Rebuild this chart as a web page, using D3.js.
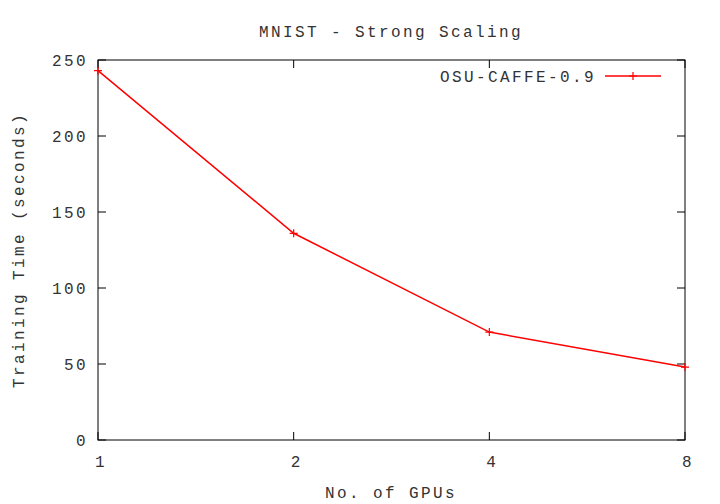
<!DOCTYPE html>
<html><head><meta charset="utf-8">
<script src="https://cdn.jsdelivr.net/npm/d3@7"></script>
<style>body{margin:0;background:#fff}text{font-family:"Liberation Mono",monospace;font-size:16px;letter-spacing:2.4px;fill:#333}</style>
</head><body><div id="c"></div>
<script>
var gpus = [1, 2, 4, 8]
var times = [243, 136, 71, 48]
var yTicks = [0, 50, 100, 150, 200, 250]
var seriesName = "OSU-CAFFE-0.9"

var wd = 720, ht = 504
var pl = 98, pr = 685, pt = 60, pb = 440

var svg = d3.select("#c").append("svg").attr("width", wd).attr("height", ht)

var x = d3.scaleLog().base(2).domain([1, 8]).range([pl, pr])
var y = d3.scaleLinear().domain([0, 250]).range([pb, pt])

// ticks, inward on all four sides
var tl = 8
yTicks.forEach(function(t) {
  svg.append("line").attr("x1", pl).attr("x2", pl + tl).attr("y1", y(t)).attr("y2", y(t)).attr("stroke", "#000")
  svg.append("line").attr("x1", pr).attr("x2", pr - tl).attr("y1", y(t)).attr("y2", y(t)).attr("stroke", "#000")
  svg.append("text").attr("x", pl - 10).attr("y", y(t) + 6).attr("text-anchor", "end").text(t)
})
gpus.forEach(function(g) {
  svg.append("line").attr("x1", x(g)).attr("x2", x(g)).attr("y1", pb).attr("y2", pb - tl).attr("stroke", "#000")
  svg.append("line").attr("x1", x(g)).attr("x2", x(g)).attr("y1", pt).attr("y2", pt + tl).attr("stroke", "#000")
  svg.append("text").attr("x", x(g) + 3).attr("y", pb + 27).attr("text-anchor", "middle").text(g)
})

svg.append("rect").attr("x", pl).attr("y", pt).attr("width", pr - pl).attr("height", pb - pt)
  .attr("fill", "none").attr("stroke", "#000")

svg.append("text").attr("x", 391).attr("y", 37).attr("text-anchor", "middle").text("MNIST - Strong Scaling")
svg.append("text").attr("x", 391).attr("y", 498).attr("text-anchor", "middle").text("No. of GPUs")
svg.append("text").attr("transform", "translate(24," + (pt + pb) / 2 + ") rotate(-90)")
  .attr("text-anchor", "middle").text("Training Time (seconds)")

var line = d3.line().x(function(d, i) { return x(gpus[i]) }).y(function(d) { return y(d) })
svg.append("path").datum(times).attr("d", line).attr("fill", "none").attr("stroke", "#f00").attr("stroke-width", 1.5)

function plus(cx, cy) {
  svg.append("path").attr("d", "M" + (cx - 4) + "," + cy + "h8M" + cx + "," + (cy - 4) + "v8")
    .attr("stroke", "#f00").attr("stroke-width", 1.2)
}
times.forEach(function(d, i) { plus(x(gpus[i]), y(d)) })

// legend
svg.append("text").attr("x", 596).attr("y", 82).attr("text-anchor", "end").text(seriesName)
svg.append("line").attr("x1", 605).attr("x2", 661).attr("y1", 76).attr("y2", 76).attr("stroke", "#f00").attr("stroke-width", 1.5)
plus(633, 76)
</script></body></html>
